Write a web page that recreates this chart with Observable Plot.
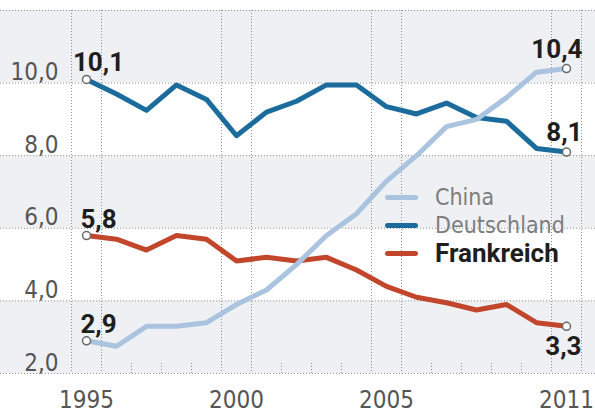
<!DOCTYPE html>
<html><head><meta charset="utf-8">
<script src="https://cdn.jsdelivr.net/npm/d3@7"></script>
<script src="https://cdn.jsdelivr.net/npm/@observablehq/plot@0.6"></script>
<style>
body{margin:0;background:#fff;}
#wrap{position:relative;width:595px;height:418px;overflow:hidden;}
.legend{position:absolute;left:385px;top:183px;font-family:"DejaVu Sans Condensed","DejaVu Sans",sans-serif;font-stretch:condensed;font-size:23px;}
.row{display:flex;align-items:center;height:28px;}
.sw{width:33px;height:5px;border-radius:2.5px;margin-right:17px;}
.cond text{font-stretch:condensed;}
</style></head>
<body><div id="wrap"></div>
<script>
const years = [1995,1996,1997,1998,1999,2000,2001,2002,2003,2004,2005,2006,2007,2008,2009,2010,2011];
const china       = [2.9,2.75,3.3,3.3,3.4,3.9,4.3,5.0,5.8,6.4,7.3,8.0,8.8,9.0,9.6,10.3,10.4];
const deutschland = [10.1,9.7,9.25,9.95,9.55,8.55,9.2,9.5,9.95,9.95,9.35,9.15,9.45,9.05,8.95,8.2,8.1];
const frankreich  = [5.8,5.7,5.4,5.8,5.7,5.1,5.2,5.1,5.2,4.85,4.4,4.1,3.95,3.75,3.9,3.4,3.3];
const seriesNames = ["China","Deutschland","Frankreich"];
const seriesColors = ["#aac3de","#1b6b9c","#c1462c"];
const yGrid = [2,4,6,8,10,12];
const yLabels = [2,4,6,8,10];
const xTicks = [1995,2000,2005,2011];

const fmt = v => v.toFixed(1).replace(".", ",");
const values = [china, deutschland, frankreich];
const rows = [];
values.forEach((arr, i) => arr.forEach((v, j) => rows.push({series: seriesNames[i], year: years[j], value: v})));
const drawOrder = ["Deutschland","Frankreich","China"];
const ends = rows.filter(d => d.year === years[0] || d.year === years[years.length-1]);
const startPts = ends.filter(d => d.year === years[0]);
const endPts = ends.filter(d => d.year === years[years.length-1]);
const endAbove = endPts.filter(d => d.series !== "Frankreich");
const endBelow = endPts.filter(d => d.series === "Frankreich");
const bands = [];
for (let i = yGrid.length - 1; i > 0; i -= 2) bands.push({y1: yGrid[i-1], y2: yGrid[i]});
const vGrid = xTicks.flatMap(t => [t - 0.5, t + 0.5]);
const halfTicks = years.map(y => y + 0.5).filter(y => y < years[years.length-1] && !vGrid.includes(y));

const color = d3.scaleOrdinal(seriesNames, seriesColors);
const gridStyle = {stroke: "#8e8e8e", strokeWidth: 1, strokeDasharray: "1,2"};
const labelFont = "DejaVu Sans Condensed, DejaVu Sans, sans-serif";
const boldFont = "Roboto, DejaVu Sans, sans-serif";

const chart = Plot.plot({
  width: 595, height: 418,
  marginLeft: 0, marginRight: 0, marginTop: 10, marginBottom: 45,
  x: {domain: [years[0], years[years.length-1]], range: [86, 566], axis: null},
  y: {domain: [yGrid[0], yGrid[yGrid.length-1]], axis: null},
  style: {background: "#fff", overflow: "visible"},
  marks: [
    Plot.rect(bands, {y1: "y1", y2: "y2", fill: "#eef0f3"}),
    Plot.ruleY(yGrid, gridStyle),
    Plot.ruleX(vGrid, gridStyle),
    Plot.ruleX(halfTicks, {x: d => d, y1: yGrid[0], y2: yGrid[0] + 0.33, ...gridStyle}),
    ...drawOrder.map(s => Plot.line(rows.filter(d => d.series === s), {
      x: "year", y: "value", stroke: color(s), strokeWidth: 5, strokeLinejoin: "round", strokeLinecap: "round"
    })),
    Plot.dot(ends, {x: "year", y: "value", r: 4, fill: "#fff", stroke: "#6a6a6a", strokeWidth: 1.5}),
    Plot.text(startPts, {x: "year", y: "value", text: d => fmt(d.value), textAnchor: "middle", lineAnchor: "bottom", dx: 12, dy: -8,
      fontFamily: boldFont, fontWeight: "bold", fontSize: 26, fill: "#1e1e1e"}),
    Plot.text(endAbove, {x: "year", y: "value", text: d => fmt(d.value), textAnchor: "end", lineAnchor: "bottom", dx: 16, dy: -11,
      fontFamily: boldFont, fontWeight: "bold", fontSize: 26, fill: "#1e1e1e"}),
    Plot.text(endBelow, {x: "year", y: "value", text: d => fmt(d.value), textAnchor: "end", lineAnchor: "top", dx: 15, dy: 10,
      fontFamily: boldFont, fontWeight: "bold", fontSize: 26, fill: "#1e1e1e"}),
    Plot.text(yLabels, {y: d => d, frameAnchor: "left", dx: 58, textAnchor: "end", lineAnchor: "bottom", dy: -3,
      text: d => fmt(d), fontFamily: labelFont, fontSize: 24, fill: "#555", className: "cond"}),
    Plot.text(xTicks, {x: d => d, frameAnchor: "bottom", lineAnchor: "top", dy: 17,
      text: d => String(d), fontFamily: labelFont, fontSize: 24, fill: "#555", className: "cond"})
  ]
});
const wrap = document.getElementById("wrap");
wrap.appendChild(chart);
const legend = document.createElement("div");
legend.className = "legend";
seriesNames.forEach((s, i) => {
  const row = document.createElement("div");
  row.className = "row";
  const sw = document.createElement("div");
  sw.className = "sw";
  sw.style.background = seriesColors[i];
  const t = document.createElement("span");
  t.textContent = s;
  if (s === "Frankreich") { t.style.fontFamily = boldFont; t.style.fontWeight = "bold"; t.style.color = "#1e1e1e"; t.style.fontSize = "26px"; t.style.fontStretch = "normal"; }
  else { t.style.color = "#7d7d7d"; }
  row.appendChild(sw); row.appendChild(t);
  legend.appendChild(row);
});
wrap.appendChild(legend);
</script></body></html>
